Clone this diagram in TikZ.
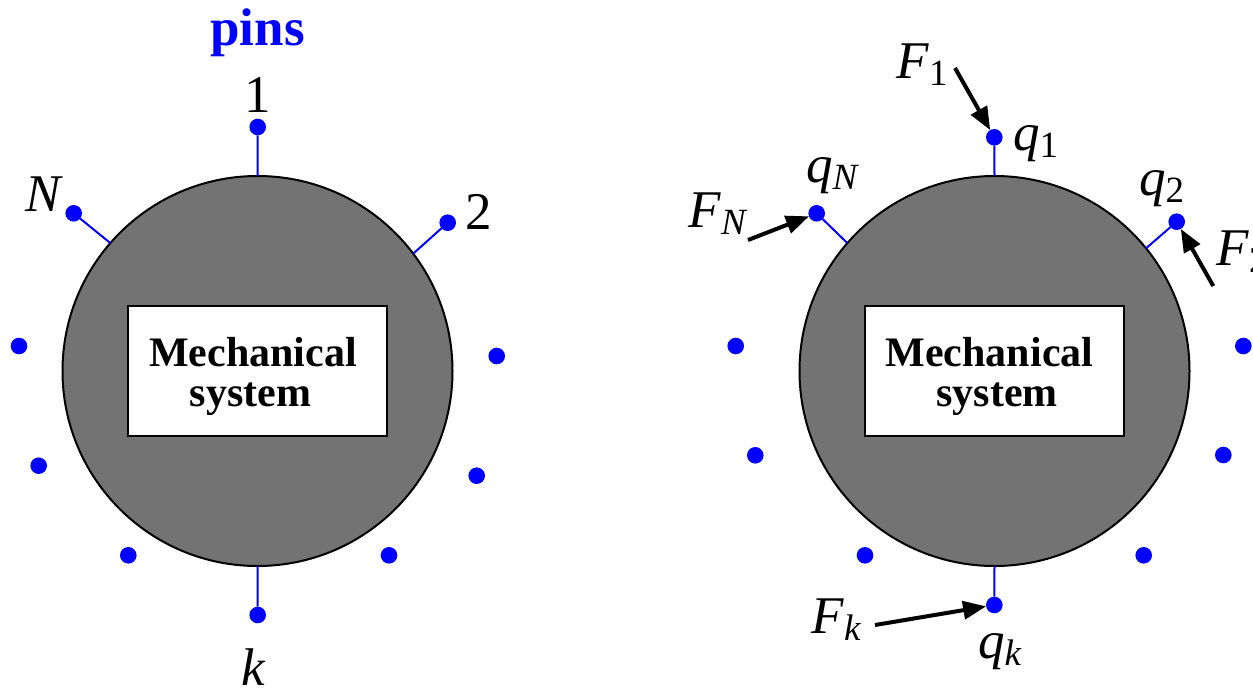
\documentclass[tikz,border=0pt]{standalone}
\usepackage{fontspec}
\setmainfont{Liberation Serif}
\usetikzlibrary{arrows.meta}
\definecolor{bodygray}{RGB}{115,115,115}
\newcommand\bigsz{\fontsize{53}{60}\selectfont}
\newcommand\subsz{\fontsize{37}{40}\selectfont}
\newcommand\lbl[2]{\textit{#1}\raisebox{-7pt}{\subsz #2}}
\tikzset{
  body/.style={circle, draw=black, line width=2pt, fill=bodygray, minimum size=390pt, inner sep=0pt, outer sep=0pt},
  sysbox/.style={rectangle, draw=black, line width=2pt, fill=white, minimum width=259pt, minimum height=130pt, inner sep=0pt, outer sep=0pt},
  systext/.style={font=\fontsize{42}{42}\selectfont\bfseries, inner sep=0pt, anchor=base},
  pin/.style={circle, fill=blue, minimum size=16.6pt, inner sep=0pt, outer sep=0pt},
  pinline/.style={draw=blue, line width=2pt},
  lab/.style={font=\bigsz, inner sep=0pt, text=black},
  force/.style={draw=black, line width=4pt, -{Triangle[length=23pt,width=18pt]}}
}
\begin{document}
\begin{tikzpicture}[x=1pt,y=-1pt]
\useasboundingbox (0,0) rectangle (1253,688);
% ---------------- left diagram ----------------
\node[body] (Lb) at (257.5,371) {};
\node[sysbox] (Lbox) at (257.5,371) {};
\node[systext] (Lt1) at (253,366) {Mechanical};
\node[systext] (Lt2) at (250.5,406) {system};
\node[font=\fontsize{53}{60}\selectfont\bfseries, text=blue, inner sep=0pt, anchor=base] (pins) at (257.5,45) {pins};
\node[pin] (L1) at (257.7,127) {};
\node[pin] (L2) at (447.7,222.7) {};
\node[pin] (LN) at (73.7,213.3) {};
\node[pin] (Lk) at (257.7,615) {};
\node[pin] (La) at (19,346) {};
\node[pin] (Lc) at (38.7,465.7) {};
\node[pin] (Ld) at (128.3,555.3) {};
\node[pin] (Le) at (496.7,356) {};
\node[pin] (Lf) at (476.7,475.7) {};
\node[pin] (Lg) at (389,555.3) {};
\draw[pinline] (L1) -- (Lb.90);
\draw[pinline] (L2) -- (Lb.37);
\draw[pinline] (LN) -- (Lb.139);
\draw[pinline] (Lk) -- (Lb.270);
\node[lab, anchor=base] (lab1) at (258,112) {1};
\node[lab, anchor=base] (lab2) at (478.5,229) {2};
\node[lab, anchor=base] (labN) at (44,211) {\textit{N}};
\node[lab, anchor=base] (labk) at (253.5,685) {\textit{k}};
% ---------------- right diagram ----------------
\node[body] (Rb) at (994.5,371) {};
\node[sysbox] (Rbox) at (994.5,371) {};
\node[systext] (Rt1) at (989.5,366) {Mechanical};
\node[systext] (Rt2) at (997,406) {system};
\node[pin] (R1) at (994.3,137.3) {};
\node[pin] (R2) at (1176.7,221.7) {};
\node[pin] (RN) at (816.7,213.3) {};
\node[pin] (Rk) at (994.3,605) {};
\node[pin] (Ra) at (735.7,346) {};
\node[pin] (Rc) at (755.3,455.3) {};
\node[pin] (Rd) at (865,555.3) {};
\node[pin] (Re) at (1243.3,346) {};
\node[pin] (Rf) at (1223.3,455) {};
\node[pin] (Rg) at (1143.7,555.3) {};
\draw[pinline] (R1) -- (Rb.90);
\draw[pinline] (R2) -- (Rb.39);
\draw[pinline] (RN) -- (Rb.139);
\draw[pinline] (Rk) -- (Rb.270);
\node[lab, anchor=base west] (F1) at (896,78) {\lbl{F}{1}};
\node[lab, anchor=base west] (q1) at (1013,150) {\lbl{q}{1}};
\node[lab, anchor=base west] (qN) at (806,182) {\lbl{q}{\textit{N}}};
\node[lab, anchor=base west] (FN) at (688,227) {\lbl{F}{\textit{N}}};
\node[lab, anchor=base west] (q2) at (1139,195) {\lbl{q}{2}};
\node[lab, anchor=base west] (F2) at (1216,265) {\lbl{F}{2}};
\node[lab, anchor=base west] (Fk) at (811,633) {\lbl{F}{\textit{k}}};
\node[lab, anchor=base west] (qk) at (978,658) {\lbl{q}{\textit{k}}};
\coordinate (F1s) at (955,68);
\coordinate (FNs) at (748,240);
\coordinate (F2s) at (1213.3,286);
\coordinate (Fks) at (875,625);
\draw[force] (F1s) -- (R1);
\draw[force] (FNs) -- (RN);
\draw[force] (F2s) -- (R2);
\draw[force] (Fks) -- (Rk);
\end{tikzpicture}
\end{document}
